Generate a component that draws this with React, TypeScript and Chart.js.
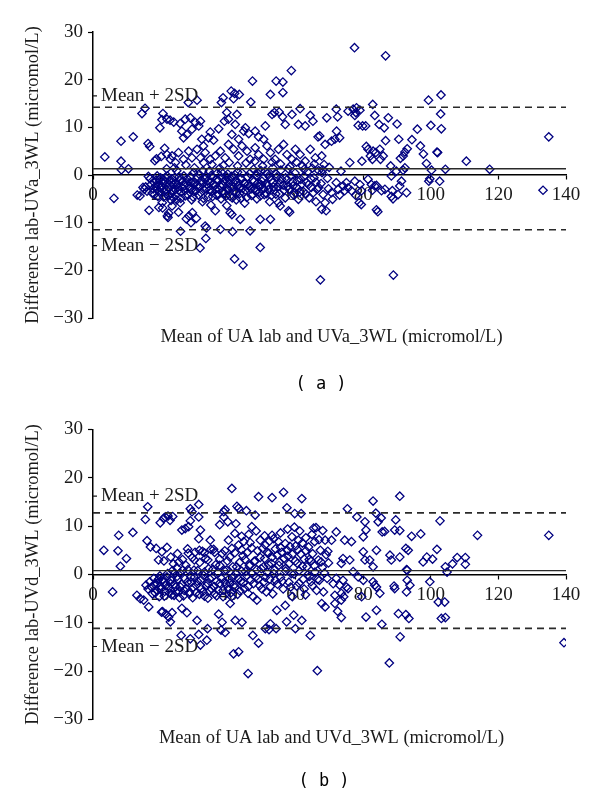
import React, { useEffect, useRef } from "react";
import { Chart, registerables } from "chart.js";

Chart.register(...registerables);

// ---------- axis ticks ----------
const X_MIN = 0;
const X_MAX = 140;
const X_STEP = 20;
const Y_MIN = -30;
const Y_MAX = 30;
const Y_STEP = 10;

// ---------- limits of agreement ----------
const meanA = 1.3;
const upperA = 14.2;
const lowerA = -11.5;
const meanB = 0.8;
const upperB = 12.75;
const lowerB = -11.15;

// ---------- texts ----------
const yTitleA = "Difference lab-UVa_3WL (micromol/L)";
const xTitleA = "Mean of UA lab and UVa_3WL (micromol/L)";
const yTitleB = "Difference lab-UVd_3WL (micromol/L)";
const xTitleB = "Mean of UA lab and UVd_3WL (micromol/L)";
const upperText = "Mean + 2SD";
const lowerText = "Mean \u2212 2SD";

// ---------- panel (a): [mean, difference] ----------
const pointsA: [number, number][] = [
  [3.5,3.8],[6.2,-4.9],[8.3,7.1],[8.3,2.9],[8.4,1.1],[10.5,1.3],[11.9,8.0],[13.1,-4.2],[13.9,-4.4],[14.5,12.9],[15.4,14.0],[14.8,-2.6],[15.2,-3.0],
  [15.6,-2.5],[16.0,-3.4],[16.3,6.6],[16.8,6.0],[16.4,-0.3],[16.9,-0.8],[16.6,-7.4],[17.2,-2.0],[17.5,-3.8],[18.0,-1.5],[18.3,3.0],[18.8,3.4],[18.5,-2.3],[19.0,-0.2],[19.2,-4.5],[19.5,-6.8],[19.0,-3.0],[19.8,9.9],[19.6,-1.0],[19.9,-2.7],
  [20.2,3.9],[20.4,11.6],[20.7,12.9],[20.5,-5.8],[20.6,-6.9],[20.8,-1.6],[21.0,-3.4],[21.2,5.6],[21.4,-0.5],[21.5,-2.2],[21.7,-4.0],[21.9,11.7],[21.9,4.3],[22.0,-8.6],[22.2,-8.9],[22.4,-8.0],[22.5,-2.8],[22.6,-1.2],[22.8,11.5],[22.9,3.3],[23.0,-3.9],[23.3,-0.8],[23.4,4.0],[23.4,-6.5],[23.6,-2.0],[23.8,-4.8],[23.9,11.1],[24.1,1.5],[24.3,-3.0],[24.4,2.6],[24.6,-1.6],[24.8,-5.2],
  [25.1,-2.6],[25.3,4.7],[25.5,-0.4],[25.8,10.8],[25.8,-5.8],[25.3,-7.8],[25.9,-11.8],[26.1,-3.6],[26.3,9.2],[26.5,-1.3],[26.8,7.8],[26.8,3.3],[27.0,-2.2],[27.3,11.7],[27.3,-4.4],[27.6,-9.2],[27.8,8.5],[27.9,-0.8],[28.2,15.2],[28.3,5.0],[28.4,-8.6],[28.6,-2.9],[28.8,12.0],[28.9,-1.5],[29.0,-10.0],[29.2,-5.2],[29.3,9.6],[29.3,3.6],[29.4,-7.9],[29.7,-3.4],[29.8,0.5],[29.9,-2.0],
  [30.3,11.0],[30.6,-9.1],[30.8,15.7],[30.8,5.4],[30.9,-0.6],[31.2,-4.2],[31.3,10.3],[31.5,-2.5],[31.7,-15.3],[31.8,11.3],[31.8,3.6],[32.0,-1.2],[32.2,7.5],[32.4,-5.6],[32.7,6.1],[32.7,2.6],[32.9,-3.1],[33.2,4.7],[33.2,-10.7],[33.4,-13.3],[33.6,-11.1],[33.5,-0.3],[33.8,-2.0],[34.1,-4.6],[34.2,7.8],[34.4,0.8],[34.7,9.0],[34.7,3.3],[34.9,-1.5],[34.9,-6.3],
  [35.2,-3.4],[35.5,-0.5],[35.7,7.3],[36.0,-2.3],[36.2,4.0],[36.2,-7.5],[36.5,-4.2],[36.8,0.4],[37.0,-1.2],[37.2,9.7],[37.3,-3.0],[37.7,5.0],[37.7,-11.4],[37.9,-5.0],[38.0,15.2],[38.1,-0.6],[38.4,-2.2],[38.5,16.2],[38.6,2.0],[38.9,11.3],[38.9,-3.8],[39.1,3.6],[39.3,-1.0],[39.6,13.1],[39.6,-6.4],[39.7,-2.8],[39.9,0.2],
  [40.1,11.7],[40.1,6.4],[40.2,-1.8],[40.5,-4.4],[40.6,-7.9],[40.9,17.6],[41.0,-0.3],[41.1,8.5],[41.1,-8.3],[41.3,-11.9],[41.5,-2.6],[41.6,16.0],[41.6,5.4],[41.8,-3.5],[41.9,17.1],[41.9,-17.6],[42.1,10.6],[42.2,-1.2],[42.4,-5.2],[42.6,12.7],[42.8,0.6],[43.0,-2.2],[43.1,7.5],[43.1,4.0],[43.3,16.9],[43.4,-3.9],[43.6,-9.3],[43.8,-0.8],[44.1,6.1],[44.3,-2.8],[44.4,-18.9],[44.6,9.2],[44.8,-1.6],[44.9,-5.9],
  [45.1,9.9],[45.2,-3.2],[45.6,5.0],[45.8,-0.4],[46.1,8.7],[46.3,-2.4],[46.5,3.3],[46.5,-11.7],[46.7,15.3],[46.9,-4.3],[47.2,19.7],[47.3,-1.0],[47.5,1.2],[47.8,-2.9],[48.0,9.2],[48.0,5.7],[48.3,-0.2],[48.5,-5.0],[48.8,-1.7],[49.0,8.0],[49.0,4.3],[49.3,-3.6],[49.5,-9.3],[49.5,-15.2],[49.7,0.9],[49.9,-2.1],
  [50.3,-0.7],[50.5,7.5],[50.5,3.3],[50.7,-4.1],[51.0,10.3],[51.2,-1.9],[51.5,6.1],[51.7,0.3],[52.0,-3.0],[52.3,-5.6],[52.5,16.9],[52.5,4.7],[52.5,-9.3],[52.8,-1.1],[53.0,12.7],[53.2,1.5],[53.4,-2.5],[53.7,13.1],[53.9,3.3],[54.1,-4.0],[54.2,19.7],[54.4,-0.4],[54.9,5.4],[54.9,-5.8],
  [55.1,13.2],[55.3,-1.8],[55.4,-6.5],[55.6,1.0],[56.1,12.2],[56.2,19.5],[56.2,17.3],[56.4,6.4],[56.5,-3.2],[56.9,10.6],[57.0,-0.6],[57.4,4.3],[57.6,-2.4],[57.9,-7.5],[58.2,-7.8],[58.3,1.8],[58.7,21.9],[58.9,12.7],[58.9,3.3],[59.1,-1.4],[59.4,-4.2],[59.9,5.4],[59.8,0.4],
  [60.3,-2.6],[60.8,10.6],[60.8,-5.1],[61.3,13.9],[61.3,4.3],[61.5,-0.9],[62.0,1.9],[62.3,-3.5],[62.8,10.3],[62.8,2.9],[63.2,-1.6],[63.6,0.7],[64.0,-4.8],[64.3,12.5],[64.3,5.4],[64.6,-2.6],[64.9,1.4],
  [65.1,11.3],[65.4,-0.6],[65.8,3.6],[66.0,-5.6],[66.3,-3.0],[66.6,8.0],[66.8,0.9],[67.1,8.2],[67.3,-22.0],[67.5,-1.8],[67.7,4.0],[67.7,-7.2],[68.1,-4.1],[68.4,2.2],[68.7,6.4],[68.7,-5.8],[69.0,-7.5],[69.2,12.0],[69.4,-0.7],[69.7,-2.9],[69.9,1.6],
  [70.6,7.1],[70.6,-3.7],[70.9,-5.1],[72.0,13.8],[71.6,7.5],[72.0,-1.6],[72.1,9.2],[72.4,12.2],[72.6,-3.0],[73.0,7.8],[73.0,-4.2],[73.4,0.8],[74.0,-2.3],[74.5,-3.3],[75.0,-1.6],[75.5,13.4],[75.5,-2.7],[76.0,2.6],[76.5,-3.3],[77.0,13.8],[77.4,26.7],[77.5,12.5],[77.5,-1.3],[77.8,13.1],[77.8,-4.3],[78.0,14.1],[78.5,10.4],[78.8,-5.8],[79.0,13.6],[79.0,-2.0],[79.4,-6.2],[79.5,-3.3],[79.8,10.3],[79.6,2.9],
  [80.7,10.3],[80.9,6.0],[81.4,5.4],[81.4,-0.9],[82.1,4.0],[82.4,-2.0],[82.8,14.8],[82.7,3.3],[82.7,-3.2],[82.9,5.0],[83.4,12.5],[83.4,-2.3],[83.7,4.7],[83.9,-7.3],[83.9,-2.2],[84.3,-7.7],[84.7,10.6],[84.9,5.4],[85.1,3.3],[85.4,-3.3],[86.2,9.9],[85.9,4.0],[86.6,7.2],[86.4,-3.0],[86.6,25.0],[87.4,12.0],[88.1,1.9],[88.3,-0.2],[88.3,-4.5],[88.6,-3.3],[88.8,-5.0],[88.9,-21.0],[90.0,10.7],[89.8,0.8],
  [90.5,7.5],[90.3,-4.1],[90.8,-2.3],[91.0,3.5],[91.3,-1.3],[91.8,4.0],[91.8,1.0],[92.3,4.8],[92.3,1.5],[92.8,-3.7],[93.0,5.5],[94.4,7.4],[96.0,9.6],[96.9,6.1],[97.8,4.4],[98.7,2.4],[99.3,15.7],[100.0,10.4],[99.4,-1.3],[99.7,-0.8],[100.2,1.0],[101.8,4.8],[102.0,4.7],[102.9,12.8],[102.6,-1.3],[103.0,16.8],[103.1,9.7],[104.3,1.2],[110.5,2.9],[117.4,1.2],[133.2,-3.2],[134.9,8.0],
  [17.8,-2.9],[18.2,-4.1],[18.7,-1.1],[19.3,-2.1],[19.7,-3.6],[20.0,-0.6],[20.3,-2.5],[20.9,-4.6],[21.1,-1.1],[21.6,-3.0],[22.0,-0.2],[22.3,-4.4],[22.7,-2.0],[23.1,-5.3],[23.5,-1.4],[23.9,-3.4],[24.2,-0.5],[24.5,-4.2],[24.9,-2.1],[25.3,-3.2],[25.7,-1.0],[26.0,-4.9],[26.4,-2.7],[26.9,-0.2],[27.2,-3.3],[27.6,-1.7],[28.0,-4.1],[28.4,-2.4],[28.8,-0.3],[29.2,-3.0],[29.6,-4.6],[30.1,-1.5],[30.5,-3.3],[31.0,-2.1],[31.4,0.2],[31.9,-3.7],[32.3,-1.8],[32.7,-4.9],[33.1,-0.9],[33.6,-2.9],[34.0,-1.2],[34.5,-3.1],[35.0,-0.1],[35.4,-4.5],[35.8,-1.9],[36.3,-3.0],[36.7,-0.9],[37.1,-4.1],[37.6,-2.3],[38.0,0.6],[38.5,-3.4],[38.8,-1.3],[39.3,-4.5],[39.6,-0.4],[40.0,-3.1],[40.4,-1.1],[40.8,-2.6],[41.2,-4.8],[41.6,-1.6],[42.0,0.1],[42.5,-3.6],[42.9,-1.5],[43.3,-2.7],[43.7,-4.9],[44.1,0.4],[44.6,-3.7],[45.0,-1.9],[45.5,-4.7],[45.9,-2.0],[46.4,0.3],[46.8,-2.9],[47.3,-4.1],[47.7,-1.3],[48.2,-3.3],[48.6,0.5],[49.1,-2.4],[49.5,-4.4],[50.0,-1.3],[50.5,-2.9],[50.9,0.8],[51.4,-3.9],[51.8,-2.2],[52.3,-0.4],[52.8,-4.3],[53.2,-1.6],[53.7,-3.2],[54.2,0.2],[54.7,-2.5],[55.2,-3.9],[55.8,-0.9],[56.3,-2.1],[56.9,-4.8],[57.4,-1.0],[58.0,-3.0],[58.6,-0.2],[59.2,-2.3],[59.8,-3.7],[60.5,-1.2],[61.1,-3.6],[61.8,-1.9],[62.4,-0.3],[63.0,-4.0],[63.8,-2.0],[64.5,-0.8],[65.2,-3.7],[66.0,-1.5],[66.8,-2.6],[67.8,0.5],
  [21.8,1.3],[24.8,0.9],[27.5,2.1],[30.0,1.5],[32.5,0.9],[35.2,2.2],[37.5,1.4],[40.3,2.6],[42.8,1.9],[45.3,2.5],[47.9,2.9],[50.2,1.9],[53.0,2.7],[55.5,2.3],[57.8,1.3],[60.2,2.7],[62.5,1.2],[65.5,2.3],[68.0,1.1],
];

// ---------- panel (b): [mean, difference] ----------
const pointsB: [number, number][] = [
  [3.2,5.0],[5.8,-3.6],[7.6,8.1],[7.4,4.9],[8.1,1.7],[9.9,3.3],[11.8,8.7],[13.0,-4.3],[14.0,-5.0],[15.0,-5.3],[15.5,11.4],[16.2,14.0],[15.7,-2.2],[16.0,7.0],
  [16.5,-6.7],[16.3,-3.0],[16.8,-1.5],[17.0,5.7],[17.3,-2.6],[17.6,-4.0],[18.0,-0.8],[18.3,-2.0],[18.7,5.4],[18.9,-3.3],[19.2,-1.2],[19.4,3.0],[19.6,-4.6],[19.9,10.7],[19.8,-0.3],[19.9,-2.4],
  [20.3,-7.8],[20.4,4.7],[20.6,-7.7],[20.9,11.6],[21.0,-1.6],[21.2,-3.5],[21.4,11.9],[21.6,-8.2],[21.9,5.6],[21.9,-0.5],[22.2,12.1],[22.4,-8.8],[22.5,-2.7],[22.9,-9.8],[22.8,11.2],[23.1,-1.2],[23.3,-4.2],[23.4,-7.9],[23.6,12.0],[23.8,2.2],[24.0,-2.0],[24.2,0.3],[24.5,-3.6],[24.8,1.4],
  [25.1,-1.0],[25.4,2.6],[25.6,-4.8],[25.9,-2.6],[26.1,-12.6],[26.3,9.2],[26.3,-7.0],[26.6,0.9],[27.0,-3.3],[27.3,9.5],[27.5,1.9],[27.8,-7.9],[27.9,-1.6],[28.2,4.4],[28.3,9.9],[28.5,-4.0],[28.8,13.6],[28.8,11.1],[28.8,-13.3],[29.0,-0.5],[29.3,13.0],[29.4,3.5],[29.6,-2.7],[29.9,0.9],
  [30.2,4.6],[30.5,-3.8],[30.8,-9.5],[30.9,-1.4],[31.3,14.5],[31.3,11.9],[31.3,7.4],[31.3,-12.4],[31.6,2.5],[31.8,9.2],[31.8,-14.6],[32.1,-2.9],[32.4,4.8],[32.7,-0.2],[33.0,-4.5],[33.3,3.3],[33.7,-13.6],[33.9,-11.2],[33.9,-1.8],[34.2,1.2],[34.7,7.1],[34.6,-3.4],[34.9,5.2],
  [35.2,-0.6],[35.7,5.2],[35.9,-2.5],[36.3,2.0],[36.6,-4.4],[37.0,0.4],[37.2,-8.2],[37.5,10.3],[37.5,-1.8],[37.9,-11.5],[38.2,4.3],[38.2,-9.9],[38.5,-3.3],[38.7,13.0],[38.7,11.9],[38.9,0.8],[39.1,13.4],[39.1,-12.0],[39.4,-2.0],[39.9,10.9],[39.8,2.8],
  [40.1,7.1],[40.3,-0.9],[40.6,-6.0],[40.8,-3.8],[41.1,17.8],[41.1,5.4],[41.4,1.6],[41.6,-16.4],[41.8,-2.2],[42.1,-9.5],[42.3,10.5],[42.4,0.2],[42.6,14.1],[42.8,-4.1],[43.1,13.7],[43.1,6.1],[43.1,-16.0],[43.4,2.5],[43.7,-1.4],[44.1,-9.9],[44.4,3.9],[44.6,6.8],[44.8,-2.9],
  [45.1,0.6],[45.4,13.2],[45.6,4.5],[45.9,-20.5],[45.9,-3.9],[46.1,8.3],[46.3,1.8],[46.7,-1.2],[47.0,9.9],[47.0,5.5],[47.3,-12.6],[47.4,-4.6],[47.7,2.7],[48.0,12.3],[48.2,-0.5],[48.5,-5.3],[48.7,4.9],[49.0,16.1],[49.0,-14.2],[49.3,-2.3],[49.5,7.1],[49.8,1.2],
  [50.2,5.4],[50.5,-1.6],[50.8,3.3],[51.0,6.1],[51.0,-11.2],[51.3,-3.6],[51.6,0.4],[52.0,4.4],[52.1,-11.4],[52.3,-1.0],[52.5,-10.2],[52.8,2.3],[53.0,15.9],[53.0,8.1],[53.2,-4.0],[53.5,7.4],[53.7,0.9],[54.0,5.3],[54.2,-11.2],[54.4,-7.4],[54.6,-2.0],[54.9,6.8],
  [55.2,2.6],[55.5,-0.6],[55.9,4.6],[56.3,-3.0],[56.4,17.0],[56.9,6.4],[56.9,-6.4],[57.1,1.3],[57.3,-9.8],[57.4,13.8],[57.7,3.8],[58.0,-1.6],[58.3,5.8],[58.7,0.2],[58.9,7.8],[59.0,-4.6],[59.4,-8.4],[59.7,12.6],[59.9,-11.2],[59.9,2.8],
  [60.3,-2.4],[60.6,5.1],[60.8,7.1],[61.0,0.8],[61.6,12.6],[61.8,15.7],[61.8,-9.5],[62.0,6.5],[62.2,-1.0],[62.5,3.2],[62.9,-4.2],[63.3,1.6],[63.8,5.7],[64.1,-0.4],[64.3,-12.6],[64.6,2.8],[64.9,-2.3],
  [65.3,9.6],[65.6,6.8],[65.7,0.5],[66.0,9.7],[66.2,-3.3],[66.4,-19.9],[66.7,3.0],[67.0,-1.2],[67.3,5.0],[67.7,-6.0],[67.9,1.5],[68.2,-3.6],[68.7,7.1],[68.7,-6.7],[69.0,4.1],[69.3,-0.8],[69.7,2.4],
  [70.6,7.1],[71.1,-1.9],[71.6,-4.3],[71.6,-6.0],[72.0,8.8],[72.0,-0.8],[72.4,-7.6],[73.0,-2.2],[73.5,2.3],[73.5,-3.9],[73.5,-5.3],[73.5,-8.9],[74.0,3.3],[74.0,-1.2],[74.2,-4.6],[74.5,7.1],[75.3,13.6],[75.0,-2.6],[75.5,-2.9],[76.0,3.0],[76.5,6.8],[77.0,0.6],[78.1,11.9],[78.5,-0.5],[79.5,-4.6],[80.0,7.8],[80.0,4.7],[80.0,-1.2],
  [80.5,10.9],[80.8,9.2],[80.5,3.0],[80.8,-8.8],[81.9,3.0],[82.9,15.2],[82.9,1.6],[82.9,-1.5],[83.7,12.7],[83.4,-2.2],[83.9,5.0],[83.9,-2.6],[83.9,-7.4],[84.4,10.9],[84.9,-3.9],[85.3,11.7],[85.5,-10.3],[85.6,8.8],[86.3,8.9],[87.7,-18.3],[87.9,4.0],[88.3,3.0],[89.1,-2.4],[89.6,11.3],[89.3,9.2],[89.3,-2.9],
  [90.4,-8.1],[90.8,16.2],[90.9,-12.9],[90.8,9.1],[90.8,3.6],[92.6,-8.3],[92.6,5.4],[92.8,1.0],[92.8,-3.6],[93.0,0.9],[93.0,-1.2],[93.3,5.0],[93.5,-9.1],[93.8,-2.2],[94.3,7.9],[97.0,8.4],[97.7,2.6],[98.8,3.6],[99.7,-1.5],[100.5,3.2],[101.8,5.2],[102.2,-5.7],[102.7,11.1],[103.1,-9.1],[104.1,-5.7],[104.3,1.6],[104.3,-8.9],[104.8,0.5],[106.4,2.2],[107.8,3.5],[110.2,3.5],[110.2,2.1],[113.8,8.1],[134.9,8.1],[139.4,-14.1],
  [18.4,-3.8],[19.0,-1.9],[19.5,-0.9],[20.1,-3.0],[20.6,-1.0],[21.1,-4.5],[21.5,-2.3],[22.1,0.2],[22.6,-3.8],[23.0,-1.9],[23.5,0.8],[24.0,-4.3],[24.4,-2.6],[24.9,-0.4],[25.4,-3.5],[25.8,0.3],[26.3,-2.0],[26.8,-4.4],[27.2,-0.9],[27.7,-2.9],[28.1,1.0],[28.6,-3.6],[29.1,-1.6],[29.5,-4.8],[30.0,-0.6],[30.5,-2.2],[31.0,0.8],[31.5,-4.1],[32.0,-1.1],[32.5,-3.6],[33.0,0.5],[33.5,-2.4],[34.0,-4.9],[34.5,-0.9],[35.0,-2.9],[35.5,1.1],[36.0,-4.0],[36.5,-1.4],[37.0,-3.2],[37.5,1.9],[38.0,-0.8],[38.5,-4.6],[39.0,-1.5],[39.5,0.9],[40.0,-3.0],[40.5,-1.8],[41.0,-4.6],[41.5,-0.4],[42.0,-2.7],[42.5,1.6],[43.0,-0.8],[43.5,-3.4],[44.0,0.7],[44.5,-1.7],[45.0,3.1],[45.5,-0.2],[46.0,-2.5],[46.5,2.0],[47.0,0.2],[47.5,-1.9],[48.0,2.8],[48.5,1.0],[49.0,-0.9],[49.5,3.5],[50.0,-3.0],[50.5,1.6],[51.0,-0.6],[51.5,4.6],[52.0,2.0],[52.5,-2.5],[53.0,3.6],[53.5,0.2],[54.0,-1.2],[54.5,4.0],[55.0,1.9],[55.5,5.6],[56.0,-1.4],[56.5,3.3],[57.0,0.7],[57.5,5.0],[58.0,2.2],[58.5,-2.6],[59.0,4.2],[59.5,0.1],[60.0,5.9],[60.5,2.3],[61.0,-1.8],[61.5,4.2],[62.0,1.7],[62.5,-3.0],[63.0,4.9],[63.5,-0.1],[64.0,3.1],[64.5,-1.5],[65.0,4.3],[65.5,1.8],[66.5,-1.0],[67.5,2.6],[68.5,0.3],[69.5,4.8],
  [21.0,2.8],[23.0,3.6],[25.0,4.3],[26.5,3.1],[28.0,5.3],[30.0,3.0],[31.5,5.0],[33.0,4.5],[34.0,3.0],[36.0,4.6],[37.5,3.2],[39.0,4.9],[40.5,3.6],[42.0,4.5],[44.0,5.1],
  [42.0,8.5],[44.0,7.9],[46.5,6.6],[48.3,9.0],[50.8,8.0],[52.2,6.9],[55.5,8.6],[57.6,9.4],[59.6,9.8],[61.2,9.0],[63.0,7.6],[64.8,8.3],[66.9,7.2],[68.0,9.1],
];

const SERIF = '"Liberation Serif", "Times New Roman", serif';
const TEXT_COLOR = "#1a1a1a";
const POINT_COLOR = "#000080";

const annotatePlugin = {
  id: "annotate",
  afterDraw(chart: any, _args: any, opts: any) {
    const { ctx, chartArea, scales } = chart;
    const ys = scales.y;
    ctx.save();
    ctx.fillStyle = TEXT_COLOR;
    ctx.strokeStyle = TEXT_COLOR;
    ctx.lineWidth = 1.2;
    ctx.font = `19px ${SERIF}`;
    ctx.textBaseline = "middle";
    ctx.textAlign = "left";
    const yUp = ys.getPixelForValue(opts.upperLabelAt);
    const yLo = ys.getPixelForValue(opts.lowerLabelAt);
    ctx.fillText(upperText, chartArea.left + 8, yUp);
    ctx.fillText(lowerText, chartArea.left + 8, yLo);
    ctx.beginPath();
    ctx.moveTo(chartArea.left, yUp);
    ctx.lineTo(chartArea.left + 4, yUp);
    ctx.moveTo(chartArea.left, yLo);
    ctx.lineTo(chartArea.left + 4, yLo);
    ctx.stroke();
    // x axis title
    ctx.textAlign = "center";
    ctx.font = `18.5px ${SERIF}`;
    ctx.fillText(opts.xTitle, (chartArea.left + chartArea.right) / 2 + 2, chartArea.bottom + 19);
    // panel label
    ctx.font = '17px "DejaVu Sans Mono", monospace';
    ctx.fillStyle = "#000";
    ctx.fillText(opts.panel, opts.panelX, chartArea.bottom + opts.panelDy);
    ctx.restore();
  },
};

type PanelProps = {
  points: [number, number][];
  mean: number;
  upper: number;
  lower: number;
  yTitle: string;
  xTitle: string;
  panel: string;
  top: number;
  height: number;
  padTop: number;
  padBottom: number;
  upperLabelAt: number;
  lowerLabelAt: number;
  panelDy: number;
  panelX: number;
};

function Panel(p: PanelProps) {
  const ref = useRef<HTMLCanvasElement | null>(null);
  useEffect(() => {
    if (!ref.current) return;
    const hline = (v: number) => [
      { x: X_MIN, y: v },
      { x: X_MAX, y: v },
    ];
    const chart = new Chart(ref.current, {
      type: "scatter",
      data: {
        datasets: [
          {
            type: "line",
            data: hline(p.mean),
            borderColor: "#2a2a2a",
            borderWidth: 1.4,
            pointRadius: 0,
            fill: false,
          } as any,
          {
            type: "line",
            data: hline(p.upper),
            borderColor: "#2a2a2a",
            borderWidth: 1.6,
            borderDash: [7, 5],
            pointRadius: 0,
            fill: false,
          } as any,
          {
            type: "line",
            data: hline(p.lower),
            borderColor: "#2a2a2a",
            borderWidth: 1.6,
            borderDash: [7, 5],
            pointRadius: 0,
            fill: false,
          } as any,
          {
            type: "scatter",
            data: p.points.map(([x, y]) => ({ x, y })),
            pointStyle: "rectRot",
            pointRadius: 4.2,
            borderColor: POINT_COLOR,
            backgroundColor: "rgba(0,0,0,0)",
            borderWidth: 1.3,
          } as any,
        ],
      },
      options: {
        responsive: false,
        animation: false,
        events: [],
        layout: {
          padding: { left: 18, right: 34, top: p.padTop, bottom: p.padBottom },
        },
        plugins: {
          legend: { display: false },
          tooltip: { enabled: false },
          annotate: {
            upperLabelAt: p.upperLabelAt,
            lowerLabelAt: p.lowerLabelAt,
            xTitle: p.xTitle,
            panel: p.panel,
            panelDy: p.panelDy,
            panelX: p.panelX,
          },
        } as any,
        scales: {
          x: {
            type: "linear",
            position: { y: 0 } as any,
            min: X_MIN,
            max: X_MAX,
            ticks: {
              stepSize: X_STEP,
              color: TEXT_COLOR,
              font: { family: SERIF, size: 19 },
              padding: 5,
              maxRotation: 0,
            },
            grid: {
              drawOnChartArea: false,
              drawTicks: true,
              tickLength: 4,
              tickColor: "#000",
              tickWidth: 1.2,
            },
            border: { display: true, color: "#000", width: 1.5 },
          },
          y: {
            type: "linear",
            position: "left",
            min: Y_MIN,
            max: Y_MAX,
            afterFit: (scale: any) => {
              scale.width = 75;
            },
            ticks: {
              stepSize: Y_STEP,
              color: TEXT_COLOR,
              font: { family: SERIF, size: 19 },
              padding: 5,
              callback: (v: any) => String(v).replace("-", "\u2212"),
            },
            grid: {
              drawOnChartArea: false,
              drawTicks: true,
              tickLength: 5,
              tickColor: "#000",
              tickWidth: 1.2,
            },
            border: { display: true, color: "#000", width: 1.5 },
            title: {
              display: true,
              text: p.yTitle,
              color: TEXT_COLOR,
              font: { family: SERIF, size: 18.5 },
            },
          },
        },
      } as any,
      plugins: [annotatePlugin as any],
    });
    return () => chart.destroy();
  }, []);
  return (
    <canvas
      ref={ref}
      width={600}
      height={p.height}
      style={{ position: "absolute", left: 0, top: p.top, width: 600, height: p.height }}
    />
  );
}

export default function App() {
  return (
    <div
      style={{
        position: "absolute",
        left: 0,
        top: 0,
        width: 600,
        height: 799,
        background: "#fff",
        overflow: "hidden",
      }}
    >
      <Panel
        points={pointsA}
        mean={meanA}
        upper={upperA}
        lower={lowerA}
        yTitle={yTitleA}
        xTitle={xTitleA}
        panel="( a )"
        top={0}
        height={400}
        padTop={32}
        padBottom={82}
        upperLabelAt={16.6}
        lowerLabelAt={-14.8}
        panelDy={67}
        panelX={321}
      />
      <Panel
        points={pointsB}
        mean={meanB}
        upper={upperB}
        lower={lowerB}
        yTitle={yTitleB}
        xTitle={xTitleB}
        panel="( b )"
        top={400}
        height={399}
        padTop={29.5}
        padBottom={79.5}
        upperLabelAt={16.2}
        lowerLabelAt={-14.9}
        panelDy={62.5}
        panelX={324}
      />
    </div>
  );
}
